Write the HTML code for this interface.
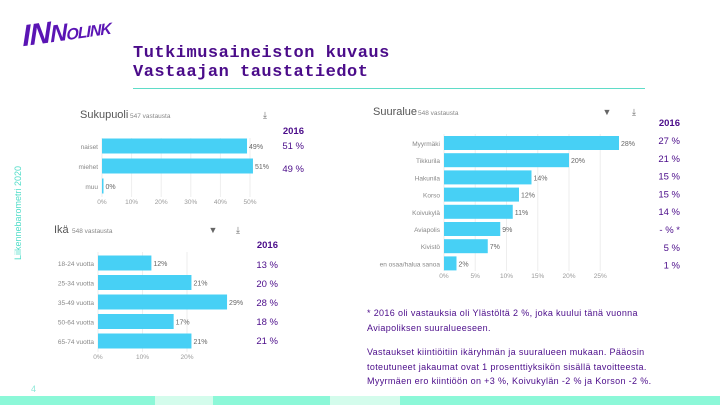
<!DOCTYPE html>
<html><head><meta charset="utf-8"><style>
body{margin:0;width:720px;height:405px;overflow:hidden;background:#fff;position:relative;font-family:"Liberation Sans",sans-serif}
.abs{position:absolute}
.t{color:#4b0c8a}
svg text{font-family:"Liberation Sans",sans-serif}
</style></head><body>
<div class="abs" style="left:22px;top:14px;font:900 italic 30px 'Liberation Sans',sans-serif;color:#5a14b4;transform:rotate(-8deg) skewX(-6deg);letter-spacing:-1px">IN<span style="font-size:24px">N</span><span style="font-size:16px">OLINK</span></div>
<div class="abs t" style="left:133px;top:44px;font:bold 17px/19px 'Liberation Mono',monospace;letter-spacing:0.5px;color:#4b0c8a">Tutkimusaineiston kuvaus<br>Vastaajan taustatiedot</div>
<div class="abs" style="left:133px;top:88px;width:512px;height:1px;background:#5fdcc8"></div>
<div class="abs" style="left:13px;top:260px;transform-origin:0 0;transform:rotate(-90deg);font-size:9px;color:#50dcc8;white-space:nowrap">Liikennebarometri 2020</div>
<div class="abs" style="left:31px;top:384px;font-size:9px;color:#8ee8d8">4</div>
<div class="abs" style="left:0;top:396px;width:720px;height:9px;background:linear-gradient(90deg,#8cf8d8 0 155px,#d4fcec 155px 213px,#8cf8d8 213px 330px,#d4fcec 330px 400px,#8cf8d8 400px)"></div>

<svg class="abs" style="left:0;top:0" width="720" height="405">
<g id="g1"></g><g id="g2"></g><g id="g3"></g>
</svg>

<div class="abs t" style="left:367px;top:306px;font-size:9px;line-height:14.5px;letter-spacing:0.35px;color:#4b0c8a;white-space:nowrap">* 2016 oli vastauksia oli Ylästöltä 2 %, joka kuului tänä vuonna<br>Aviapoliksen suuralueeseen.</div>
<div class="abs t" style="left:367px;top:345px;font-size:9px;line-height:14.5px;letter-spacing:0.35px;color:#4b0c8a;white-space:nowrap">Vastaukset kiintiöitiin ikäryhmän ja suuralueen mukaan. Pääosin<br>toteutuneet jakaumat ovat 1 prosenttiyksikön sisällä tavoitteesta.<br>Myyrmäen ero kiintiöön on +3 %, Koivukylän -2 % ja Korson -2 %.</div>

<script>
const genderCats=["naiset","miehet","muu"];
const genderVals=[49,51,0];
const gender2016=["51 %","49 %"];
const genderTicks=[0,10,20,30,40,50];
const regionCats=["Myyrmäki","Tikkurila","Hakunila","Korso","Koivukylä","Aviapolis","Kivistö","en osaa/halua sanoa"];
const regionVals=[28,20,14,12,11,9,7,2];
const region2016=["27 %","21 %","15 %","15 %","14 %","- % *","5 %","1 %"];
const regionTicks=[0,5,10,15,20,25];
const ageCats=["18-24 vuotta","25-34 vuotta","35-49 vuotta","50-64 vuotta","65-74 vuotta"];
const ageVals=[12,21,29,17,21];
const age2016=["13 %","20 %","28 %","18 %","21 %"];
const ageTicks=[0,10,20];
const NS="http://www.w3.org/2000/svg";
function mk(g,tag,a,txt){const e=document.createElementNS(NS,tag);for(const k in a)e.setAttribute(k,a[k]);if(txt!==undefined)e.textContent=txt;g.appendChild(e);return e;}
function chart(gid,o){
 const g=document.getElementById(gid);
 const x=v=>o.x0+v*o.k;
 const y=i=>o.y0+i*o.step;
 const t=mk(g,'text',{x:o.tx,y:o.ty,'font-size':11,fill:'#555'},o.title);
 
 mk(g,'text',{x:o.tx+o.tw,y:o.ty,'font-size':6.5,fill:'#888'},o.n);
 o.ticks.forEach(v=>{
  const l=mk(g,'line',{x1:x(v),x2:x(v),y1:o.gy0,y2:o.gy1,stroke:'#eee'});
  
  const tt=mk(g,'text',{x:x(v),y:o.gy1+7,'font-size':6.5,fill:'#999','text-anchor':'middle'},v+'%');
  
 });
 o.cats.forEach((c,i)=>{
  const cl=mk(g,'text',{x:o.x0-4,y:y(i)+3,'font-size':6.5,fill:'#888','text-anchor':'end'},c);
  
  const w=Math.max(o.vals[i]*o.k,1.5);
  const b=mk(g,'rect',{x:o.x0,y:y(i)-o.bh/2,width:w,height:o.bh,fill:'#47d0f5'});
  
  const vl=mk(g,'text',{x:o.x0+w+2,y:y(i)+3,'font-size':7,fill:'#666'},o.vals[i]+'%');
  
 });
 const h=mk(g,'text',{x:o.cx,y:o.cy,'font-size':9.5,'font-weight':'bold',fill:'#4b0c8a','text-anchor':'end'},'2016');
 
 o.prev.forEach((p,i)=>{
  const e=mk(g,'text',{x:o.cx,y:o.py0+i*o.pstep,'font-size':9.5,fill:'#4b0c8a','text-anchor':'end'},p);
  
 });
 o.icons.forEach(ix=>{mk(g,'text',{x:ix,y:o.ty,'font-size':9,fill:'#666','text-anchor':'middle'},ix===o.icons[o.icons.length-1]?'⤓':'▼');});
}
chart('g1',{name:'gender',title:'Sukupuoli',n:'547 vastausta',tx:80,ty:118,tw:50,cats:genderCats,vals:genderVals,ticks:genderTicks,x0:102,k:2.96,y0:146,step:20,bh:15,gy0:138,gy1:197,cx:304,cy:134,prev:gender2016,py0:149,pstep:23,icons:[265]});
chart('g2',{name:'region',title:'Suuralue',n:'548 vastausta',tx:373,ty:115,tw:45,cats:regionCats,vals:regionVals,ticks:regionTicks,x0:444,k:6.25,y0:143,step:17.2,bh:14,gy0:134,gy1:271,cx:680,cy:126,prev:region2016,py0:144,pstep:17.8,icons:[607,634]});
chart('g3',{name:'age',title:'Ikä',n:'548 vastausta',tx:54,ty:233,tw:18,cats:ageCats,vals:ageVals,ticks:ageTicks,x0:98,k:4.45,y0:263,step:19.5,bh:15,gy0:252,gy1:352,cx:278,cy:248,prev:age2016,py0:268,pstep:19,icons:[213,238]});
</script>
</body></html>
